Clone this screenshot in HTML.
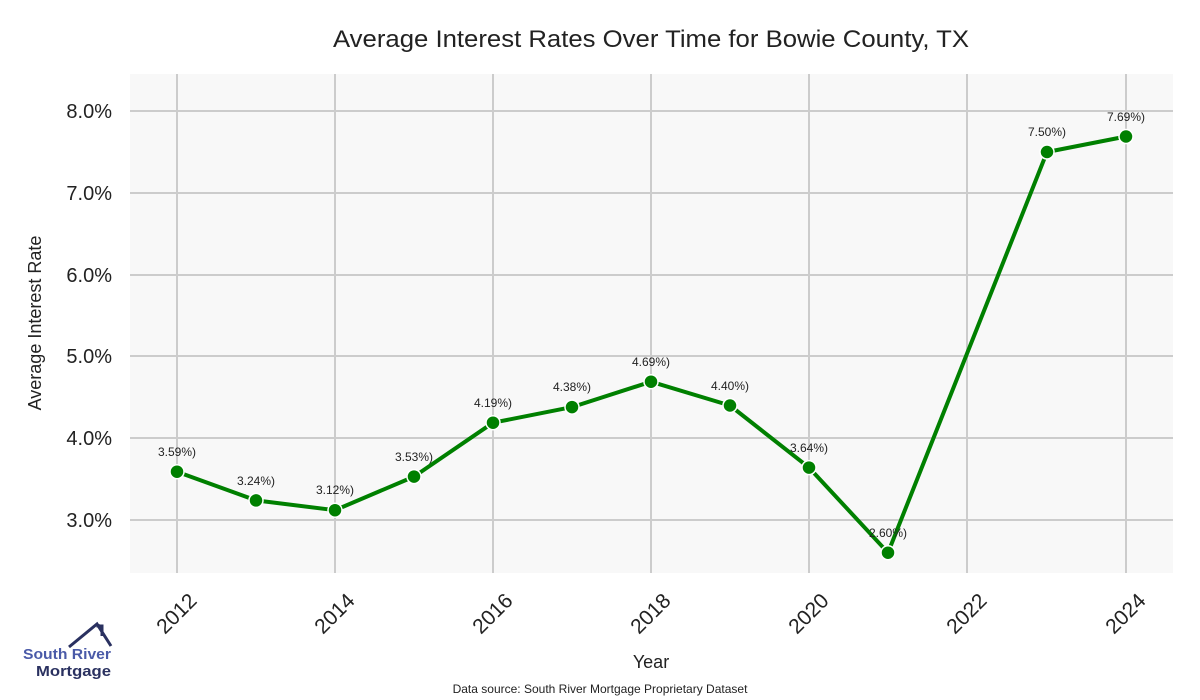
<!DOCTYPE html>
<html><head><meta charset="utf-8"><style>body{margin:0;background:#fff}svg{display:block}text{font-family:"Liberation Sans",sans-serif}</style></head>
<body>
<svg width="1200" height="700" viewBox="0 0 1200 700">
<rect width="1200" height="700" fill="#fff"/>
<text x="651" y="47" text-anchor="middle" font-size="24" fill="#222" textLength="636" lengthAdjust="spacingAndGlyphs">Average Interest Rates Over Time for Bowie County, TX</text>
<rect x="130" y="74" width="1043" height="499" fill="#f8f8f8"/>
<g stroke="#cccccc" stroke-width="2">
<line x1="130" x2="1173" y1="111" y2="111"/><line x1="130" x2="1173" y1="193" y2="193"/><line x1="130" x2="1173" y1="275" y2="275"/><line x1="130" x2="1173" y1="356" y2="356"/><line x1="130" x2="1173" y1="438" y2="438"/><line x1="130" x2="1173" y1="520" y2="520"/>
<line y1="74" y2="573" x1="177" x2="177"/><line y1="74" y2="573" x1="335" x2="335"/><line y1="74" y2="573" x1="493" x2="493"/><line y1="74" y2="573" x1="651" x2="651"/><line y1="74" y2="573" x1="809" x2="809"/><line y1="74" y2="573" x1="967" x2="967"/><line y1="74" y2="573" x1="1126" x2="1126"/>
</g>
<g font-size="20" fill="#222" text-anchor="end">
<text x="112" y="118">8.0%</text><text x="112" y="200">7.0%</text><text x="112" y="282">6.0%</text><text x="112" y="363">5.0%</text><text x="112" y="445">4.0%</text><text x="112" y="527">3.0%</text>
</g>
<text transform="translate(41,323) rotate(-90)" text-anchor="middle" font-size="18" fill="#222">Average Interest Rate</text>
<g font-size="21" fill="#222" text-anchor="end">
<text transform="translate(198,602) rotate(-45)">2012</text>
<text transform="translate(356,602) rotate(-45)">2014</text>
<text transform="translate(514,602) rotate(-45)">2016</text>
<text transform="translate(672,602) rotate(-45)">2018</text>
<text transform="translate(830,602) rotate(-45)">2020</text>
<text transform="translate(988,602) rotate(-45)">2022</text>
<text transform="translate(1147,602) rotate(-45)">2024</text>
</g>
<text x="651" y="668" text-anchor="middle" font-size="18" fill="#222">Year</text>
<text x="600" y="693" text-anchor="middle" font-size="12" fill="#222">Data source: South River Mortgage Proprietary Dataset</text>
<polyline fill="none" stroke="#008000" stroke-width="4" stroke-linejoin="round" points="177,471.7 256,500.4 335,510.2 414,476.6 493,422.7 572,407.1 651,381.7 730,405.5 809,467.6 888,552.7 1047,152 1126,136.5"/>
<g fill="#008000" stroke="#fff" stroke-width="1.5">
<circle cx="177" cy="471.7" r="7"/><circle cx="256" cy="500.4" r="7"/><circle cx="335" cy="510.2" r="7"/><circle cx="414" cy="476.6" r="7"/><circle cx="493" cy="422.7" r="7"/><circle cx="572" cy="407.1" r="7"/><circle cx="651" cy="381.7" r="7"/><circle cx="730" cy="405.5" r="7"/><circle cx="809" cy="467.6" r="7"/><circle cx="888" cy="552.7" r="7"/><circle cx="1047" cy="152" r="7"/><circle cx="1126" cy="136.5" r="7"/>
</g>
<g font-size="12" fill="#222" text-anchor="middle">
<text x="177" y="456">3.59%)</text><text x="256" y="485">3.24%)</text><text x="335" y="494">3.12%)</text><text x="414" y="461">3.53%)</text><text x="493" y="407">4.19%)</text><text x="572" y="391">4.38%)</text><text x="651" y="366">4.69%)</text><text x="730" y="390">4.40%)</text><text x="809" y="452">3.64%)</text><text x="888" y="537">2.60%)</text><text x="1047" y="136">7.50%)</text><text x="1126" y="121">7.69%)</text>
</g>
<polyline fill="none" stroke="#2a3160" stroke-width="3" points="69,647 97,624 111,646"/>
<polyline fill="none" stroke="#2a3160" stroke-width="3" points="98,624 98,626 102,626 102,636"/>
<text x="23" y="659" font-size="15" font-weight="bold" fill="#4a5aa8" textLength="88" lengthAdjust="spacingAndGlyphs">South River</text>
<text x="36" y="676" font-size="15" font-weight="bold" fill="#2a3160" textLength="75" lengthAdjust="spacingAndGlyphs">Mortgage</text>
</svg>
</body></html>
